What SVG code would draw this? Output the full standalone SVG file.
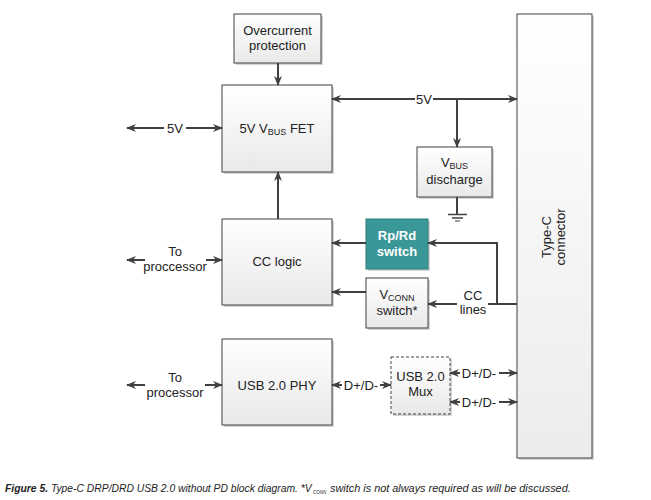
<svg xmlns="http://www.w3.org/2000/svg" width="651" height="500" viewBox="0 0 651 500">
<defs>
<linearGradient id="g" x1="0" y1="0" x2="0" y2="1"><stop offset="0" stop-color="#ffffff"/><stop offset="1" stop-color="#e9e9e9"/></linearGradient>
<linearGradient id="gc" x1="0" y1="0" x2="0" y2="1"><stop offset="0" stop-color="#ffffff"/><stop offset="1" stop-color="#ececec"/></linearGradient>
<marker id="ah" markerUnits="userSpaceOnUse" markerWidth="10" markerHeight="10" viewBox="0 0 10 10" refX="9" refY="5" orient="auto-start-reverse"><path d="M0,1 L10,5 L0,9 L3,5 z" fill="#404040"/></marker>
<style>
.box{fill:url(#g);stroke:#404040;stroke-width:1}
.sh{fill:#d4d4d4}
.ln{fill:none;stroke:#404040;stroke-width:2}
text{font-family:"Liberation Sans",Arial,sans-serif;font-size:13px;fill:#222;text-anchor:middle}
.sub{font-size:9px}
.w{fill:#ffffff}
.cap{font-style:italic;font-size:11px;text-anchor:start;fill:#222}
.capsub{font-style:italic;font-size:6px;text-anchor:start;fill:#222}
</style>
</defs>
<rect width="651" height="500" fill="#ffffff"/>

<g id="overcurrent">
<rect class="sh" x="236" y="16" width="87" height="49"/>
<rect class="box" x="234" y="14" width="87" height="49"/>
<text x="277.5" y="35">Overcurrent</text>
<text x="277.5" y="50">protection</text>
</g>

<g id="vbusfet">
<rect class="sh" x="224" y="87" width="110" height="87"/>
<rect class="box" x="222" y="85" width="110" height="87"/>
<text x="277" y="133">5V V<tspan class="sub" dy="2">BUS</tspan><tspan dy="-2"> FET</tspan></text>
</g>

<g id="vbusdischarge">
<rect class="sh" x="419" y="149" width="75" height="50"/>
<rect class="box" x="417" y="147" width="75" height="50"/>
<text x="454.5" y="167">V<tspan class="sub" dy="2">BUS</tspan></text>
<text x="454.5" y="184">discharge</text>
</g>

<g id="cclogic">
<rect class="sh" x="224" y="221" width="110" height="86"/>
<rect class="box" x="222" y="219" width="110" height="86"/>
<text x="277" y="266">CC logic</text>
</g>

<g id="rprdswitch">
<rect class="sh" x="368" y="221" width="62" height="50"/>
<rect x="366" y="219" width="62" height="50" fill="#3a9797" stroke="#2f7a7a" stroke-width="1"/>
<text class="w" x="397" y="240" font-weight="bold">Rp/Rd</text>
<text class="w" x="397" y="256" font-weight="bold">switch</text>
</g>

<g id="vconnswitch">
<rect class="sh" x="368" y="280" width="62" height="50"/>
<rect class="box" x="366" y="278" width="62" height="50"/>
<text x="397" y="299">V<tspan class="sub" dy="2">CONN</tspan></text>
<text x="397" y="315">switch*</text>
</g>

<g id="usbphy">
<rect class="sh" x="224" y="341" width="110" height="86"/>
<rect class="box" x="222" y="339" width="110" height="86"/>
<text x="277" y="390">USB 2.0 PHY</text>
</g>

<g id="usbmux">
<rect class="sh" x="393" y="359" width="59" height="57"/>
<rect x="391" y="357" width="59" height="57" fill="url(#g)" stroke="#404040" stroke-width="1" stroke-dasharray="3,2"/>
<text x="420.5" y="381">USB 2.0</text>
<text x="420.5" y="396">Mux</text>
</g>

<g id="typec">
<rect class="sh" x="519" y="16" width="75" height="444"/>
<rect x="517" y="14" width="75" height="444" fill="url(#gc)" stroke="#404040" stroke-width="1"/>
<text transform="translate(553,237) rotate(-90)" y="-2">Type-C</text>
<text transform="translate(553,237) rotate(-90)" y="12">connector</text>
</g>

<g id="ground">
<line class="ln" x1="457" y1="197" x2="457" y2="214" stroke-width="1.5"/>
<line x1="448" y1="214.5" x2="467" y2="214.5" stroke="#404040" stroke-width="1.5"/>
<line x1="452" y1="218" x2="463" y2="218" stroke="#404040" stroke-width="1.5"/>
<line x1="455" y1="221" x2="460" y2="221" stroke="#404040" stroke-width="1"/>
</g>

<g id="connectors">
<line class="ln" x1="278" y1="63" x2="278" y2="85" marker-end="url(#ah)"/>
<line class="ln" x1="278" y1="219" x2="278" y2="172" marker-end="url(#ah)"/>
<line class="ln" x1="164" y1="128" x2="127" y2="128" marker-end="url(#ah)"/>
<line class="ln" x1="186" y1="128" x2="222" y2="128" marker-end="url(#ah)"/>
<text x="175" y="132.5">5V</text>
<line class="ln" x1="415" y1="99" x2="332" y2="99" marker-end="url(#ah)"/>
<line class="ln" x1="433" y1="99" x2="517" y2="99" marker-end="url(#ah)"/>
<text x="424" y="103.5">5V</text>
<line class="ln" x1="457" y1="99" x2="457" y2="147" marker-end="url(#ah)"/>

<line class="ln" x1="145" y1="260" x2="127" y2="260" marker-end="url(#ah)"/>
<line class="ln" x1="206" y1="260" x2="222" y2="260" marker-end="url(#ah)"/>
<text x="175" y="256">To</text>
<text x="175" y="271">proccessor</text>

<line class="ln" x1="366" y1="243" x2="332" y2="243" marker-end="url(#ah)"/>
<line class="ln" x1="366" y1="292" x2="332" y2="292" marker-end="url(#ah)"/>
<polyline class="ln" points="517,304 497,304 497,243 428,243" marker-end="url(#ah)"/>
<line class="ln" x1="497" y1="304" x2="488" y2="304"/>
<line class="ln" x1="457" y1="304" x2="428" y2="304" marker-end="url(#ah)"/>
<text x="473" y="300">CC</text>
<text x="473" y="314">lines</text>

<line class="ln" x1="145" y1="385" x2="127" y2="385" marker-end="url(#ah)"/>
<line class="ln" x1="205" y1="385" x2="222" y2="385" marker-end="url(#ah)"/>
<text x="175" y="382">To</text>
<text x="175" y="397">processor</text>

<line class="ln" x1="342" y1="385" x2="332" y2="385" marker-end="url(#ah)"/>
<line class="ln" x1="380" y1="385" x2="391" y2="385" marker-end="url(#ah)"/>
<text x="361" y="389.5">D+/D-</text>

<line class="ln" x1="460" y1="373" x2="450" y2="373" marker-end="url(#ah)"/>
<line class="ln" x1="499" y1="373" x2="517" y2="373" marker-end="url(#ah)"/>
<text x="479" y="377.5">D+/D-</text>
<line class="ln" x1="460" y1="402" x2="450" y2="402" marker-end="url(#ah)"/>
<line class="ln" x1="499" y1="402" x2="517" y2="402" marker-end="url(#ah)"/>
<text x="479" y="406.5">D+/D-</text>
</g>

<g id="caption">
<text class="cap" transform="translate(5,492) scale(0.94,1)"><tspan font-weight="bold">Figure 5.</tspan> Type-C DRP/DRD USB 2.0 without PD block diagram. *V</text>
<text class="capsub" transform="translate(313,494) scale(0.75,1)">CONN</text>
<text class="cap" transform="translate(330,492) scale(0.99,1)">switch is not always required as will be discussed.</text>
</g>
</svg>
